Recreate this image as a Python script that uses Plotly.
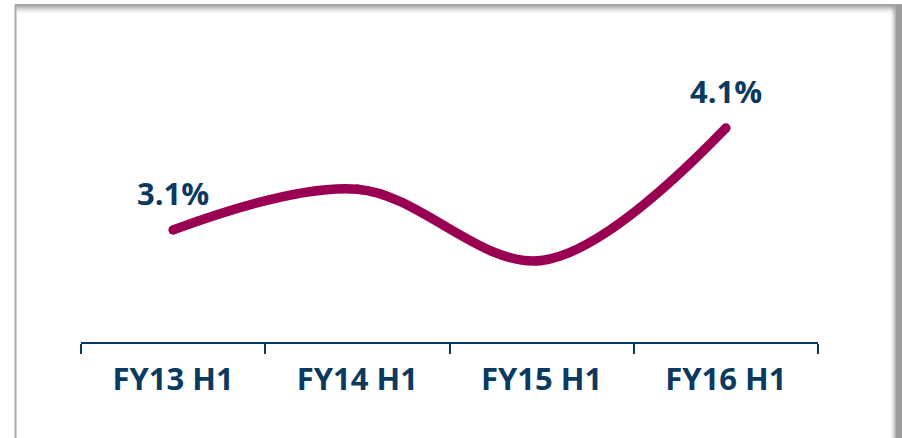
import plotly.graph_objects as go

categories = ["FY13 H1", "FY14 H1", "FY15 H1", "FY16 H1"]
values = [3.1, 3.5, 2.8, 4.1]
labels = ["3.1%", "", "", "4.1%"]

W, H = 902, 438
L, R, T, B = 81, 84, 20, 96
PW, PH = W - L - R, H - T - B

def px(x):
    return (x - L) / PW

def py(y):
    return 1 - (y - T) / PH

NAVY = "#0b3a60"
LINE = "#990052"

fig = go.Figure()
fig.add_trace(go.Scatter(
    x=categories, y=values, mode="lines+markers",
    line=dict(color=LINE, width=9.5, shape="spline", smoothing=1),
    marker=dict(color=LINE, size=9.5),
    hoverinfo="skip", showlegend=False,
))

for c, v, t in zip(categories, values, labels):
    if t:
        fig.add_annotation(x=c, y=v, text=t, showarrow=False, yshift=37,
                           font=dict(family="Open Sans", size=31, color=NAVY, weight="bold"))

shapes = []
# frame: left border
shapes.append(dict(type="line", xref="paper", yref="paper",
                   x0=px(15.5), x1=px(15.5), y0=py(5), y1=py(440),
                   line=dict(color="#a9a9a9", width=2)))
# top border with inner shadow
shapes.append(dict(type="line", xref="paper", yref="paper",
                   x0=px(15), x1=px(902), y0=py(5), y1=py(5),
                   line=dict(color="#a6a6a6", width=2)))
for i, op in enumerate([0.55, 0.45, 0.35, 0.26, 0.18, 0.11, 0.06, 0.03]):
    yy = 6.5 + i
    shapes.append(dict(type="line", xref="paper", yref="paper",
                       x0=px(16.5), x1=px(895), y0=py(yy), y1=py(yy),
                       line=dict(color="rgba(120,120,120,%.2f)" % op, width=1)))
# right border with shadow
shapes.append(dict(type="rect", xref="paper", yref="paper",
                   x0=px(896), x1=px(903), y0=py(5), y1=py(440),
                   fillcolor="#9c9c9c", line=dict(width=0)))
for i, op in enumerate([0.55, 0.4, 0.27, 0.16, 0.08]):
    xx = 895.5 - i
    shapes.append(dict(type="line", xref="paper", yref="paper",
                       x0=px(xx), x1=px(xx), y0=py(6), y1=py(440),
                       line=dict(color="rgba(120,120,120,%.2f)" % op, width=1)))

fig.update_layout(
    width=W, height=H,
    margin=dict(l=L, r=R, t=T, b=B),
    paper_bgcolor="white", plot_bgcolor="white",
    shapes=shapes,
    xaxis=dict(
        type="category", range=[-0.5, 3.5],
        showline=True, linecolor=NAVY, linewidth=2,
        ticks="outside", tickson="boundaries", ticklen=10, tickwidth=2, tickcolor=NAVY,
        showgrid=False, zeroline=False,
        tickfont=dict(family="Open Sans", size=31, color=NAVY, weight="bold"),
        ticklabelstandoff=9,
    ),
    yaxis=dict(range=[2.0, 5.16], visible=False, showgrid=False, zeroline=False),
)

fig.write_html("out.html")
